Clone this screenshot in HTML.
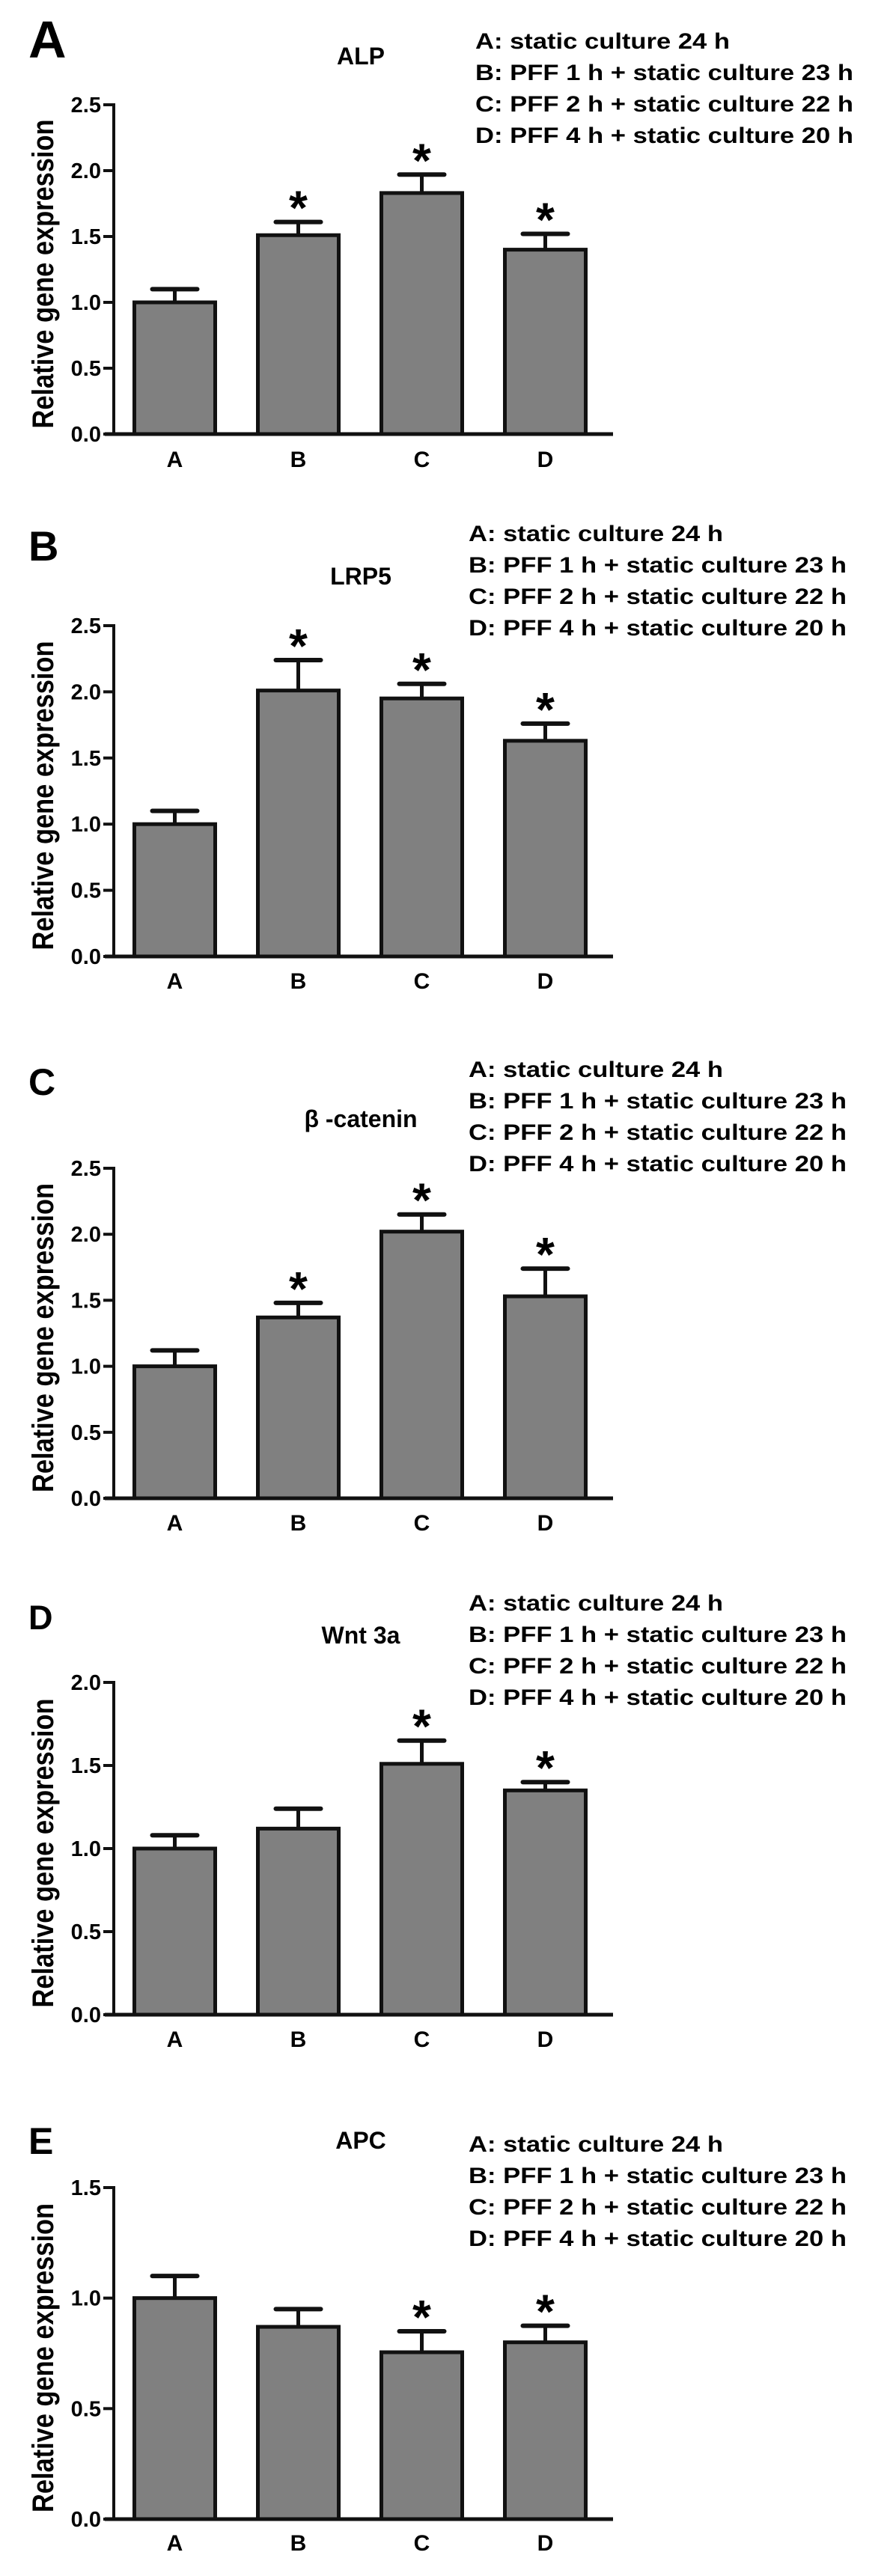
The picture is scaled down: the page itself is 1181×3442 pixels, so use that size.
<!DOCTYPE html>
<html><head><meta charset="utf-8">
<style>
html,body{margin:0;padding:0;background:#fff;}
svg{display:block;font-family:"Liberation Sans",Arial,sans-serif;font-weight:bold;}
</style></head>
<body>
<svg id="fig" width="1181" height="3442" viewBox="0 0 1181 3442" xmlns="http://www.w3.org/2000/svg"></svg>
<script>
// ---- data ----
const categories = ["A","B","C","D"];
const legendLines = ["A: static culture 24 h","B: PFF 1 h + static culture 23 h","C: PFF 2 h + static culture 22 h","D: PFF 4 h + static culture 20 h"];
const panelLetters = ["A","B","C","D","E"];
const geneTitles = ["ALP","LRP5","\u03B2 -catenin","Wnt 3a","APC"];
const alpMeans = [1.0, 1.51, 1.83, 1.40];
const alpErrTops = [1.10, 1.61, 1.97, 1.52];
const alpSig = [false, true, true, true];
const lrp5Means = [1.0, 2.01, 1.95, 1.63];
const lrp5ErrTops = [1.10, 2.24, 2.06, 1.76];
const lrp5Sig = [false, true, true, true];
const catMeans = [1.0, 1.37, 2.02, 1.53];
const catErrTops = [1.12, 1.48, 2.15, 1.74];
const catSig = [false, true, true, true];
const wntMeans = [1.0, 1.12, 1.51, 1.35];
const wntErrTops = [1.08, 1.24, 1.65, 1.40];
const wntSig = [false, false, true, true];
const apcMeans = [1.0, 0.87, 0.755, 0.80];
const apcErrTops = [1.10, 0.95, 0.85, 0.875];
const apcSig = [false, false, true, true];
const yMaxes = [2.5, 2.5, 2.5, 2.0, 1.5];
const tickLabelsABC = ["0.0","0.5","1.0","1.5","2.0","2.5"];
const tickLabelsD = ["0.0","0.5","1.0","1.5","2.0"];
const tickLabelsE = ["0.0","0.5","1.0","1.5"];

// ---- layout ----
const layouts = [
  {top:140, zero:580, letterBase:77, letterSize:70, titleBase:86, legendBase:65, legendX:635, labelBase:624},
  {top:836, zero:1278, letterBase:749, letterSize:56, titleBase:781, legendBase:723, legendX:626, labelBase:1321},
  {top:1561, zero:2002, letterBase:1463, letterSize:50, titleBase:1506, legendBase:1439, legendX:626, labelBase:2045},
  {top:2248, zero:2692, letterBase:2177, letterSize:45, titleBase:2196, legendBase:2152, legendX:626, labelBase:2735},
  {top:2923, zero:3366, letterBase:2878, letterSize:50, titleBase:2871, legendBase:2875, legendX:626, labelBase:3408}
];
const panelData = [
  [alpMeans, alpErrTops, alpSig, tickLabelsABC],
  [lrp5Means, lrp5ErrTops, lrp5Sig, tickLabelsABC],
  [catMeans, catErrTops, catSig, tickLabelsABC],
  [wntMeans, wntErrTops, wntSig, tickLabelsD],
  [apcMeans, apcErrTops, apcSig, tickLabelsE]
];
const NS = "http://www.w3.org/2000/svg";
const svg = document.getElementById("fig");
function mk(tag, attrs, parent){
  const e = document.createElementNS(NS, tag);
  for (const k in attrs) e.setAttribute(k, attrs[k]);
  parent.appendChild(e);
  return e;
}
const axisX = 152, axisEnd = 819, firstCenter = 233.5, step = 165, barW = 108;

for (let p = 0; p < 5; p++) {
  const L = layouts[p];
  const [means, errs, sig, ticks] = panelData[p];
  const yMax = yMaxes[p];
  const y = v => L.zero - (v / yMax) * (L.zero - L.top);
  const x = i => firstCenter + i * step;
  const g = mk("g", {}, svg);
  
  

  const letter = mk("text", {x:38, y:L.letterBase, "font-size":L.letterSize}, g);
  letter.textContent = panelLetters[p];
  
  

  const title = mk("text", {x:482, y:L.titleBase, "font-size":32, "text-anchor":"middle"}, g);
  title.textContent = geneTitles[p];
  
  

  const lg = mk("g", {}, g);
  
  
  legendLines.forEach((t, i) => {
    const tx = mk("text", {x:L.legendX, y:L.legendBase + i * 42, "font-size":30, textLength: i === 0 ? 340 : 505, lengthAdjust:"spacingAndGlyphs"}, lg);
    tx.textContent = t;
    
    
  });

  const mid = (L.top + L.zero) / 2 + 6;
  const yt = mk("text", {x:0, y:0, "font-size":40, "text-anchor":"middle", textLength:413, lengthAdjust:"spacingAndGlyphs", transform:`translate(71,${mid}) rotate(-90)`}, g);
  yt.textContent = "Relative gene expression";
  
  

  // bars
  means.forEach((v, i) => {
    const cx = x(i);
    const r = mk("rect", {x:cx - barW/2, y:y(v), width:barW, height:L.zero - y(v), fill:"#808080", stroke:"#111", "stroke-width":5}, g);
    
    
    const ev = mk("line", {x1:cx, x2:cx, y1:y(v), y2:y(errs[i]), stroke:"#111", "stroke-width":5}, g);
    
    
    const ec = mk("line", {x1:cx - 30, x2:cx + 30, y1:y(errs[i]), y2:y(errs[i]), stroke:"#111", "stroke-width":6, "stroke-linecap":"round"}, g);
    
    
    if (sig[i]) {
      const s = mk("text", {x:cx, y:y(errs[i]) + 3, "font-size":64, "text-anchor":"middle"}, g);
      s.textContent = "*";
      
      
    }
    const xl = mk("text", {x:cx, y:L.labelBase, "font-size":30, "text-anchor":"middle"}, g);
    xl.textContent = categories[i];
    
    
  });

  // axes
  const ya = mk("line", {x1:axisX, x2:axisX, y1:L.top - 2, y2:L.zero, stroke:"#111", "stroke-width":4}, g);
  
  
  const xa = mk("line", {x1:140, x2:axisEnd, y1:L.zero, y2:L.zero, stroke:"#111", "stroke-width":5}, g);
  
  
  ticks.forEach(t => {
    const v = parseFloat(t);
    const tk = mk("line", {x1:138, x2:axisX, y1:y(v), y2:y(v), stroke:"#111", "stroke-width":4}, g);
    
    
    const tl = mk("text", {x:135, y:y(v) + 10, "font-size":29, "text-anchor":"end"}, g);
    tl.textContent = t;
    
    
  });
}
</script>
</body></html>
